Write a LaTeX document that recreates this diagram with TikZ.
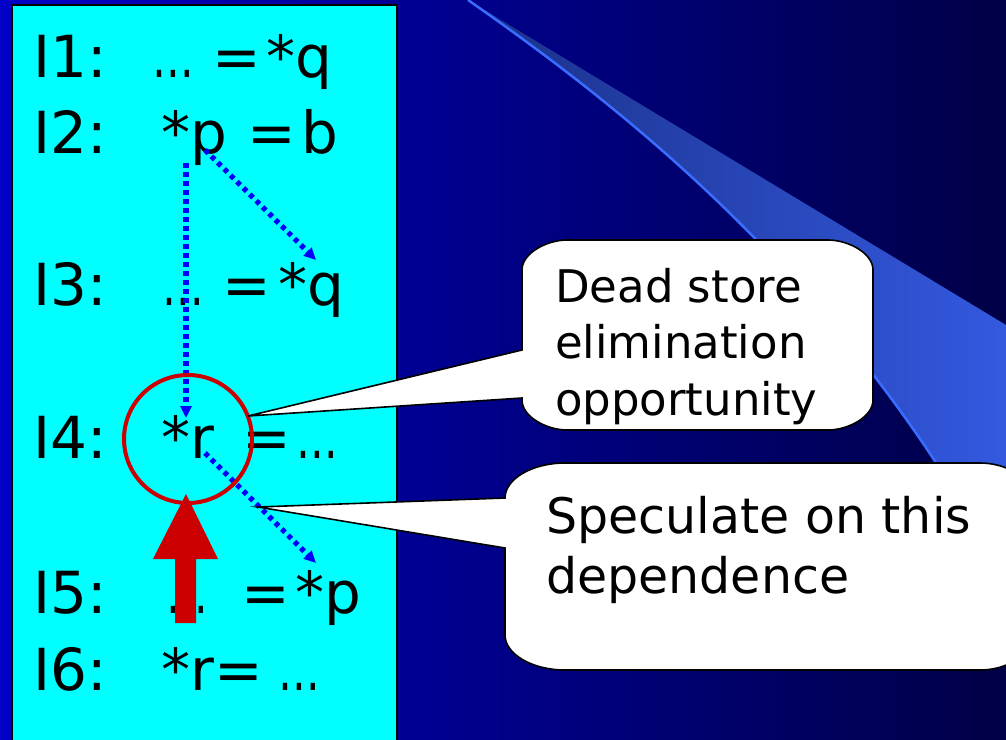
\documentclass[tikz,border=0pt]{standalone}
\usepackage{graphicx}
\usepackage{fontspec}
\setmainfont{DejaVu Sans}
\usetikzlibrary{arrows.meta}
\definecolor{cyanbox}{HTML}{00FFFF}
\definecolor{bgleft}{HTML}{0000C8}
\definecolor{bgmid}{HTML}{00009C}
\definecolor{bgright}{HTML}{000046}
\definecolor{wedgeL}{HTML}{1A3088}
\definecolor{wedgeR}{HTML}{3459E0}
\definecolor{swoosh}{HTML}{3A6CFF}
\definecolor{depblue}{HTML}{0000FF}
\definecolor{hotred}{HTML}{CC0000}
\newcommand{\dotsx}{\scalebox{0.72}[1]{…}}
\begin{document}
\begin{tikzpicture}[x=1pt,y=-1pt,
  code/.style={anchor=base west,inner sep=0pt,text=black,font=\fontsize{58}{58}\selectfont},
  say/.style={anchor=base west,inner sep=0pt,text=black,font=\fontsize{45}{45}\selectfont},
  saybig/.style={anchor=base west,inner sep=0pt,text=black,font=\fontsize{49}{49}\selectfont},
  dep/.style={depblue,line width=5.2pt,dash pattern=on 4.6pt off 4.4pt,-{Triangle[length=12pt,width=11pt]}},
  balloon/.style={fill=white,draw=black,line width=1.6pt,line join=miter},
  panel/.style={fill=cyanbox,draw=black,line width=1.5pt},
  focusring/.style={circle,draw=hotred,line width=4pt,minimum size=128pt,inner sep=0pt},
]
\useasboundingbox (0,0) rectangle (1006,739);
\begin{scope}
\clip (0,0) rectangle (1006,739);
% background
\shade[left color=bgleft,middle color=bgmid,right color=bgright] (0,0) rectangle (1006,739);
\shade[left color=wedgeL,right color=wedgeR] (468,0) -- (1006,325) -- (1006,580)
  .. controls (850,290) and (640,120) .. (468,0) -- cycle;
\draw[swoosh,line width=2.5pt] (468,0) .. controls (640,120) and (850,290) .. (1006,580);
% code panel
\draw[panel] (12,5) rectangle (397,760);

% code lines
\node[code] (l1a) at (33,77) {I1:};
\node[code] (l1b) at (152,77) {\dotsx};
\node[code] (l1c) at (212,77) {=};
\node[code] (l1d) at (266,77) {*q};

\node[code] (l2a) at (33,153) {I2:};
\node[code] (l2b) at (161,153) {*p};
\node[code] (l2c) at (247,153) {=};
\node[code] (l2d) at (301,153) {b};

\node[code] (l3a) at (33,305) {I3:};
\node[code] (l3b) at (162,305) {\dotsx};
\node[code] (l3c) at (222,305) {=};
\node[code] (l3d) at (278,305) {*q};

\node[code] (l4a) at (33,458) {I4:};
\node[code] (l4b) at (161,458) {*r};
\node[code] (l4c) at (242,458) {=};
\node[code] (l4d) at (296,458) {\dotsx};

\node[code] (l5a) at (33,613) {I5:};
\node[code] (l5b) at (166,613) {\dotsx};
\node[code] (l5c) at (241,613) {=};
\node[code] (l5d) at (295,613) {*p};

\node[code] (l6a) at (33,690) {I6:};
\node[code] (l6b) at (161,690) {*r=};
\node[code] (l6c) at (278,690) {\dotsx};

% dependence arrows
\coordinate (p2) at (205,150);
\coordinate (p2v) at (186,163);
\coordinate (q3) at (316,260);
\coordinate (r4top) at (186,418);
\coordinate (r4) at (205,453);
\coordinate (p5) at (316,563);
\draw[dep] (p2) -- (q3);
\draw[dep] (p2v) -- (r4top);
\draw[dep] (r4) -- (p5);

% focus ring and red arrow
\node[focusring] (focus) at (188,439) {};
\fill[hotred] (175,623) -- (175,559) -- (153,559) -- (186,494) -- (218,559) -- (196,559) -- (196,623) -- cycle;

% callouts
\coordinate (tipA) at (248,416);
\coordinate (tipB) at (258,507);
\draw[balloon] (522,398) -- (522,400) .. controls (522,417) and (547,430) .. (567,430)
  -- (828,430) .. controls (848,430) and (873,417) .. (873,400)
  -- (873,270) .. controls (873,253) and (848,240) .. (828,240)
  -- (567,240) .. controls (547,240) and (522,253) .. (522,270)
  -- (522,350) -- (tipA) -- cycle;
\node[say] (c1a) at (555,302) {Dead store};
\node[say] (c1b) at (555,358) {elimination};
\node[say] (c1c) at (555,415) {opportunity};

\draw[balloon] (505,548) -- (505,635) .. controls (505,654) and (532,670) .. (565,670)
  -- (980,670) .. controls (1008,670) and (1032,654) .. (1032,635)
  -- (1032,498) .. controls (1032,479) and (1008,463) .. (980,463)
  -- (565,463) .. controls (532,463) and (505,479) .. (505,498)
  -- (tipB) -- cycle;
\node[saybig] (c2a) at (546,533) {Speculate on this};
\node[saybig] (c2b) at (546,593) {dependence};
\end{scope}
\end{tikzpicture}
\end{document}
